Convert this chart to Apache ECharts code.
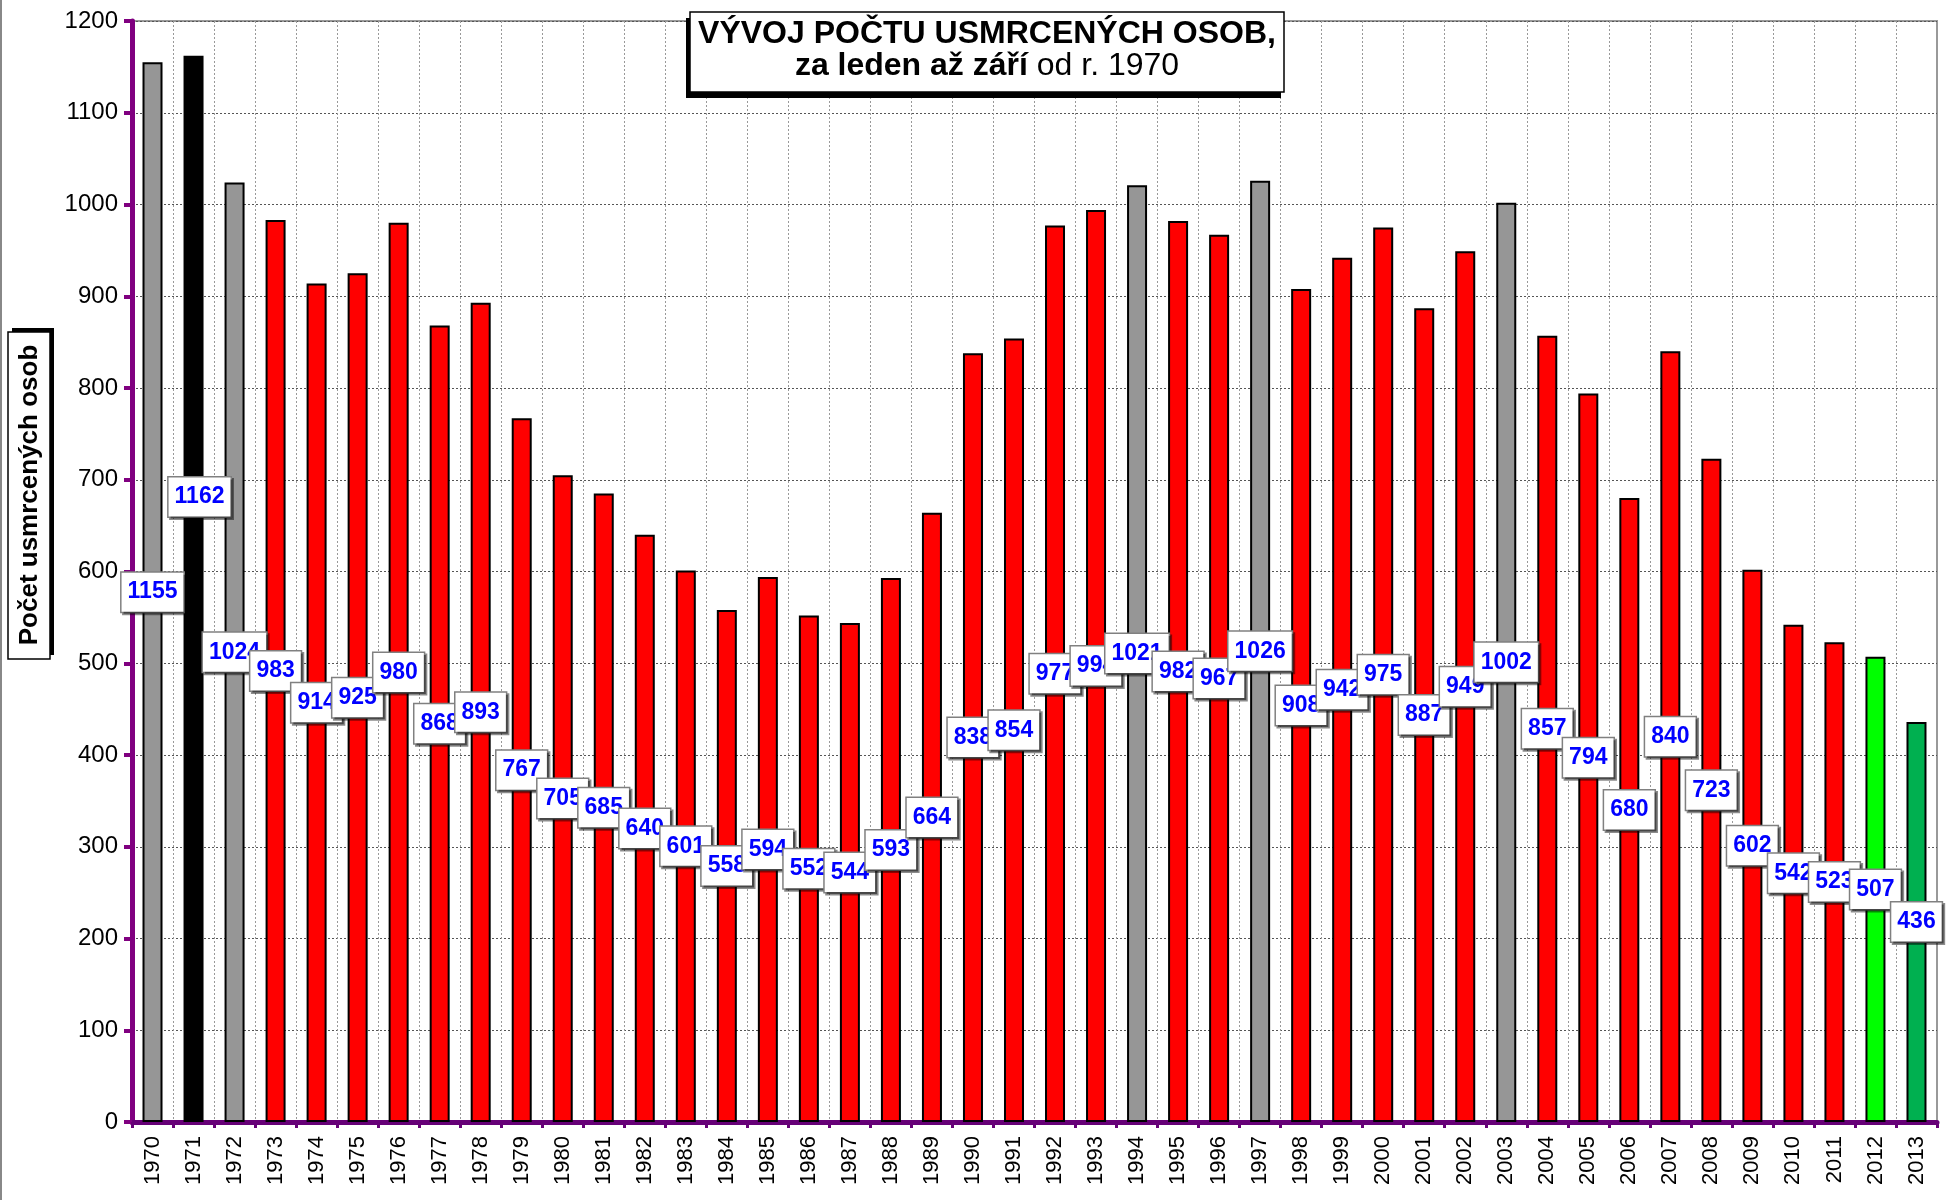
<!DOCTYPE html>
<html><head><meta charset="utf-8">
<script src="https://cdn.jsdelivr.net/npm/echarts@6/dist/echarts.min.js"></script>
<style>html,body{margin:0;padding:0;background:#fff}#c{width:1955px;height:1200px}</style>
</head><body><div id="c"></div>
<script>
const years = ['1970','1971','1972','1973','1974','1975','1976','1977','1978','1979','1980','1981','1982','1983','1984','1985','1986','1987','1988','1989','1990','1991','1992','1993','1994','1995','1996','1997','1998','1999','2000','2001','2002','2003','2004','2005','2006','2007','2008','2009','2010','2011','2012','2013'];
const deaths = [1155,1162,1024,983,914,925,980,868,893,767,705,685,640,601,558,594,552,544,593,664,838,854,977,994,1021,982,967,1026,908,942,975,887,949,1002,857,794,680,840,723,602,542,523,507,436];
const grayYears = ['1970','1972','1994','1997','2003'];
const blackYears = ['1971'];
const lightGreenYears = ['2012'];
const darkGreenYears = ['2013'];

const SANS = "'Liberation Sans',Arial,sans-serif";

function barColor(y){
  if (grayYears.includes(y)) return '#969696';
  if (blackYears.includes(y)) return '#000000';
  if (lightGreenYears.includes(y)) return '#00ff00';
  if (darkGreenYears.includes(y)) return '#00b050';
  return '#ff0000';
}

const seriesData = years.map((y,i)=>{
  const item = {value: deaths[i], itemStyle:{color: barColor(y)}};
  if (y === '1971') item.label = {offset:[6,-92]};
  return item;
});

const chart = echarts.init(document.getElementById('c'), null, {renderer:'canvas'});
chart.setOption({
  animation:false,
  backgroundColor:'#ffffff',
  title:{
    text:'{a|VÝVOJ POČTU USMRCENÝCH OSOB,}\n{b|za leden až září}{c| od r. 1970}',
    left:979, top:12, textAlign:'center',
    padding:[6,8,10,8],
    backgroundColor:'#fff', borderColor:'#000', borderWidth:1.5,
    z:10,
    textStyle:{
      rich:{
        a:{fontFamily:SANS,fontWeight:'bold',fontSize:32,lineHeight:32,color:'#000'},
        b:{fontFamily:SANS,fontWeight:'bold',fontSize:32,lineHeight:32,color:'#000'},
        c:{fontFamily:SANS,fontWeight:'normal',fontSize:32,lineHeight:32,color:'#000'}
      }
    }
  },
  graphic:[
    {type:'rect', shape:{x:0,y:0,width:2,height:1200}, style:{fill:'#888'}, silent:true},
    {type:'rect', z:5, shape:{x:686,y:18,width:595,height:80}, style:{fill:'#000'}, silent:true},
    {type:'rect', shape:{x:12,y:328,width:42,height:327}, style:{fill:'#000'}, silent:true},
    {type:'rect', shape:{x:8,y:332,width:42,height:327}, style:{fill:'#fff',stroke:'#000',lineWidth:1.5}, silent:true},
    {type:'text', x:30, y:495, rotation:Math.PI/2, silent:true,
     style:{text:'Počet usmrcených osob', font:"bold 26px 'Liberation Sans',Arial,sans-serif", fill:'#000', align:'center', verticalAlign:'middle'}}
  ],
  grid:{left:132,right:18,top:21,bottom:78,show:true,borderColor:'#999',borderWidth:2,backgroundColor:'transparent'},
  xAxis:{
    type:'category', data:years,
    axisLine:{lineStyle:{color:'#660077',width:5}},
    axisTick:{show:true,length:6,lineStyle:{color:'#660077',width:3}},
    axisLabel:{rotate:90,interval:0,fontSize:22,fontFamily:SANS,color:'#000',margin:14},
    splitLine:{show:true,interval:0,lineStyle:{type:[2,2],color:'#999',width:1}}
  },
  yAxis:{
    type:'value', min:0, max:1200, interval:100,
    axisLine:{show:true,lineStyle:{color:'#800080',width:5}},
    axisTick:{show:true,length:8,lineStyle:{color:'#800080',width:4}},
    axisLabel:{fontSize:24,fontFamily:SANS,color:'#000',margin:14,formatter:v=>String(v)},
    splitLine:{show:true,lineStyle:{type:[2,2],color:'#555',width:1}}
  },
  series:[{
    type:'bar', data:seriesData, barWidth:20,
    itemStyle:{borderColor:'#000',borderWidth:2},
    label:{
      show:true, position:'inside', formatter:'{c}',
      color:'#0000ff', fontFamily:SANS, fontWeight:'bold', fontSize:23, lineHeight:25,
      backgroundColor:'#fff', borderColor:'#808080', borderWidth:1.5, padding:[7,6],
      shadowColor:'rgba(0,0,0,0.45)', shadowOffsetX:2, shadowOffsetY:2, shadowBlur:0
    }
  }]
});
</script></body></html>
